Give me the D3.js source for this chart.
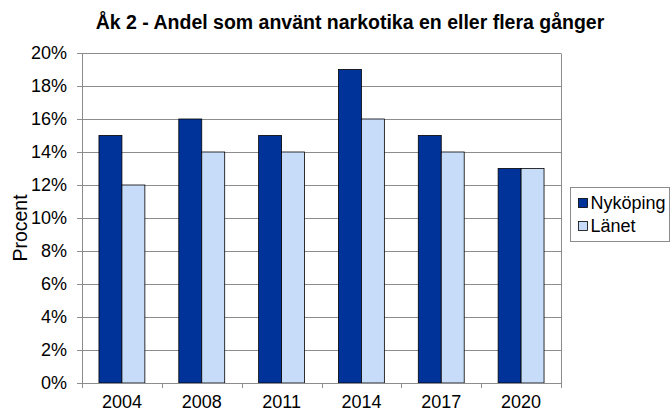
<!DOCTYPE html>
<html>
<head>
<meta charset="utf-8">
<script src="https://cdn.jsdelivr.net/npm/d3@7"></script>
<style>
  body { margin: 0; background: #fff; }
  text { font-family: "Liberation Sans", Arial, sans-serif; fill: #000; }
</style>
</head>
<body>
<div id="chart"></div>
<script>
// data
const years = ["2004", "2008", "2011", "2014", "2017", "2020"];
const nykoping = [15, 16, 15, 19, 15, 13];
const lanet = [12, 14, 14, 16, 14, 13];
const seriesNames = ["Nyköping", "Länet"];
const yTicks = [0, 2, 4, 6, 8, 10, 12, 14, 16, 18, 20];

const width = 670, height = 413;
const margin = {top: 53, right: 109, bottom: 30, left: 82};
const colors = ["#003399", "#c6dcf8"];

const svg = d3.select("#chart").append("svg")
    .attr("width", width)
    .attr("height", height);

const innerW = width - margin.left - margin.right;
const innerH = height - margin.top - margin.bottom;

const g = svg.append("g")
    .attr("transform", `translate(${margin.left},${margin.top})`);

// scales
const x = d3.scaleBand().domain(years).range([0, innerW]).paddingInner(0).paddingOuter(0);
const x1 = d3.scaleBand().domain(seriesNames).range([x.bandwidth() * 0.2125, x.bandwidth() * 0.7875]);
const y = d3.scaleLinear().domain([0, 20]).range([innerH, 0]);

// title
svg.append("text")
    .attr("x", 350)
    .attr("y", 29)
    .attr("text-anchor", "middle")
    .style("font-size", "19.5px")
    .style("font-weight", "bold")
    .text("Åk 2 - Andel som använt narkotika en eller flera gånger");

// gridlines
g.append("g")
    .selectAll("line")
    .data(yTicks.filter(d => d > 0))
    .join("line")
    .attr("x1", 0).attr("x2", innerW)
    .attr("y1", d => Math.round(y(d)) + 0.5)
    .attr("y2", d => Math.round(y(d)) + 0.5)
    .attr("stroke", "#8c8c8c");

// right border
g.append("line")
    .attr("x1", innerW + 0.5).attr("x2", innerW + 0.5)
    .attr("y1", Math.round(y(20)) + 0.5).attr("y2", innerH)
    .attr("stroke", "#8c8c8c");

// bars
const groups = g.append("g")
    .selectAll("g")
    .data(years.map((yr, i) => ({year: yr, vals: [nykoping[i], lanet[i]]})))
    .join("g")
    .attr("transform", d => `translate(${x(d.year)},0)`);

groups.selectAll("rect")
    .data(d => d.vals.map((v, j) => ({name: seriesNames[j], value: v, idx: j})))
    .join("rect")
    .attr("x", d => x1(d.name))
    .attr("y", d => y(d.value))
    .attr("width", x1.bandwidth())
    .attr("height", d => innerH - y(d.value))
    .attr("fill", d => colors[d.idx])
    .attr("stroke", "#000")
    .attr("stroke-width", 0.8);

// y axis
const yAxis = g.append("g")
    .call(d3.axisLeft(y).tickValues(yTicks).tickFormat(d => d + "%").tickSize(5).tickPadding(10));
yAxis.select(".domain").attr("stroke", "#8c8c8c");
yAxis.selectAll(".tick line").attr("stroke", "#8c8c8c");
yAxis.selectAll("text").style("font-size", "18px").attr("fill", "#000");

// x axis
const xAxis = g.append("g")
    .attr("transform", `translate(0,${innerH})`)
    .call(d3.axisBottom(x).tickSize(0).tickPadding(12));
xAxis.select(".domain").attr("stroke", "#8c8c8c");
xAxis.selectAll("text").style("font-size", "18px").attr("fill", "#000");

// x tick marks at category boundaries
g.append("g")
    .selectAll("line")
    .data(d3.range(years.length + 1))
    .join("line")
    .attr("x1", i => Math.round(i * x.step()) + 0.5)
    .attr("x2", i => Math.round(i * x.step()) + 0.5)
    .attr("y1", innerH)
    .attr("y2", innerH + 5)
    .attr("stroke", "#8c8c8c");

// y axis label
svg.append("text")
    .attr("transform", `translate(27,228) rotate(-90)`)
    .attr("text-anchor", "middle")
    .style("font-size", "19.5px")
    .text("Procent");

// legend
const legend = svg.append("g").attr("transform", "translate(570.5,187.5)");
legend.append("rect")
    .attr("width", 99)
    .attr("height", 54)
    .attr("fill", "#fff")
    .attr("stroke", "#8c8c8c");

seriesNames.forEach((name, i) => {
    legend.append("rect")
        .attr("x", 8)
        .attr("y", 11 + i * 23)
        .attr("width", 9)
        .attr("height", 9)
        .attr("fill", colors[i])
        .attr("stroke", "#000")
        .attr("stroke-width", 0.8);
    legend.append("text")
        .attr("x", 20)
        .attr("y", 21 + i * 23)
        .style("font-size", "18px")
        .text(name);
});
</script>
</body>
</html>
